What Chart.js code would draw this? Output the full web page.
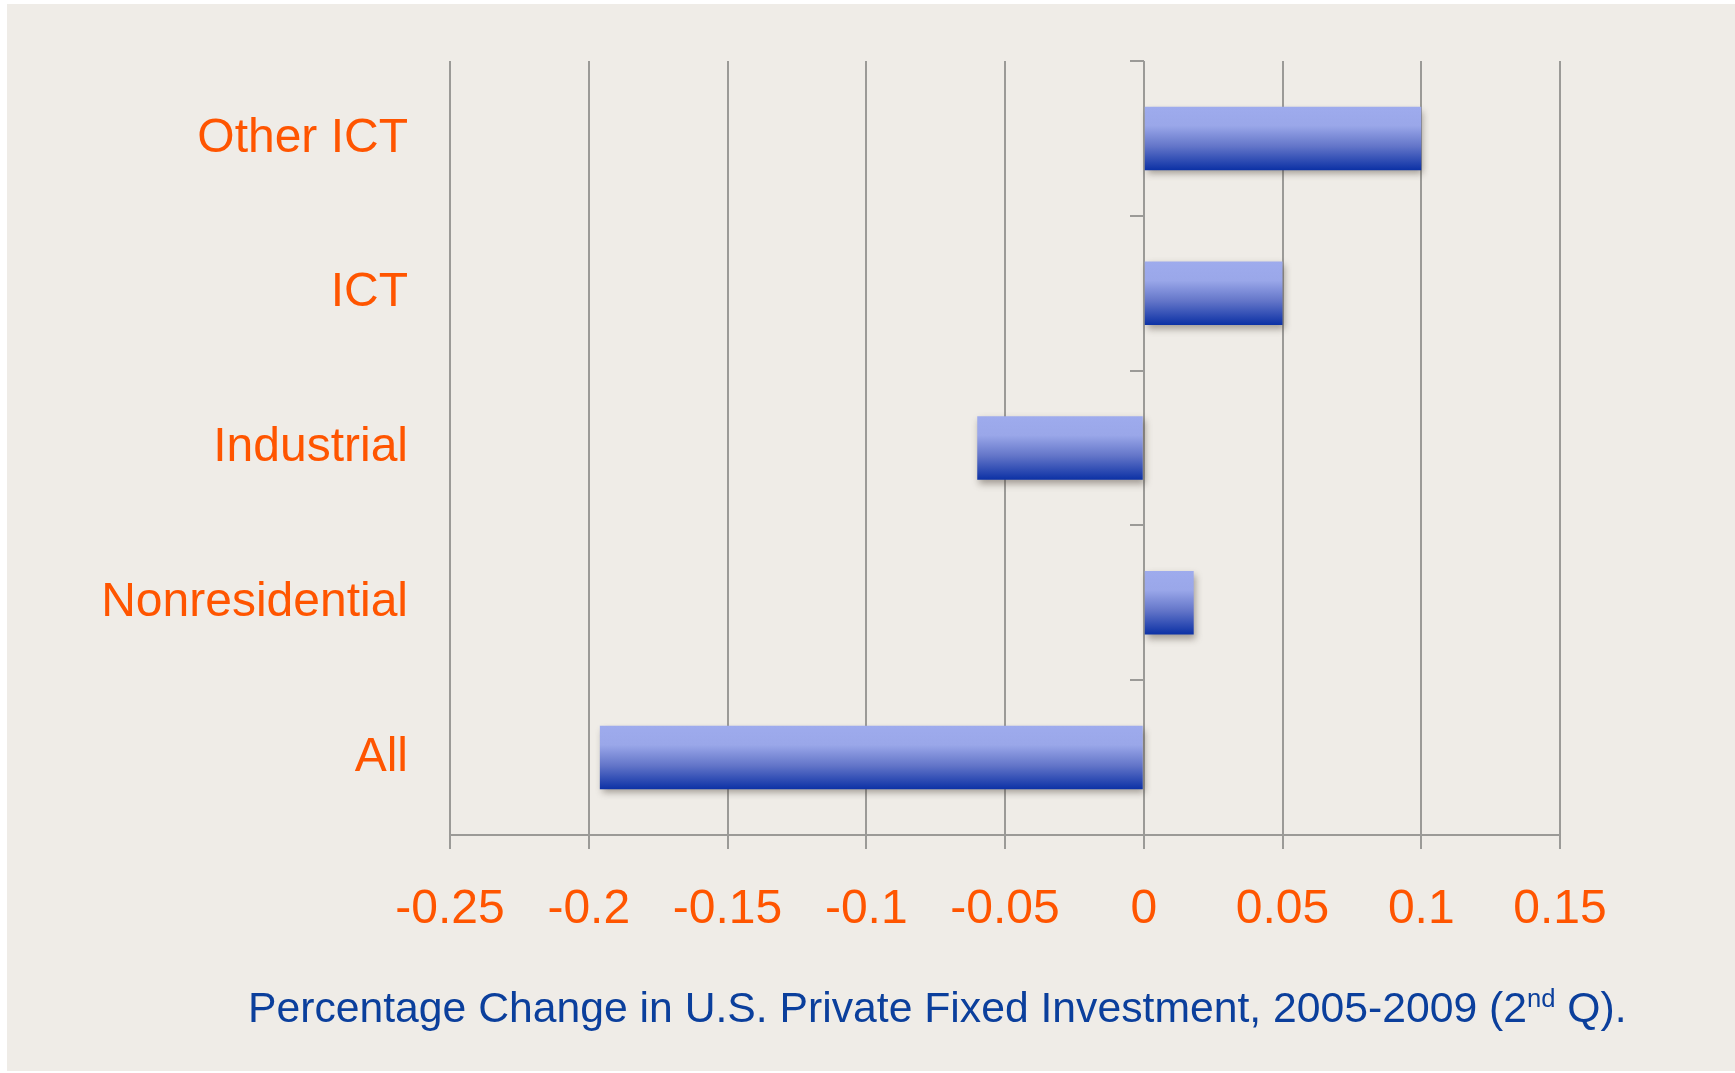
<!DOCTYPE html>
<html>
<head>
<meta charset="utf-8">
<title>Percentage Change in U.S. Private Fixed Investment</title>
<script src="https://cdn.jsdelivr.net/npm/chart.js@4.4.1/dist/chart.umd.min.js"></script>
<style>
    html, body { margin: 0; padding: 0; background: #ffffff; }
    body { width: 1735px; height: 1073px; position: relative; overflow: hidden; font-family: "Liberation Sans", Arial, sans-serif; }
    #panel { position: absolute; left: 7px; top: 4px; right: 0; bottom: 2px; background: #efece7; }
    #wrap { position: absolute; left: 0; top: 0; width: 1735px; height: 1073px; }
    #caption { position: absolute; left: 248px; top: 982px; font-size: 42.7px; line-height: 50px; color: #0b3f9c; white-space: nowrap; }
    #caption sup { font-size: 60%; line-height: 0; vertical-align: 0.6em; }
</style>
</head>
<body>
<div id="panel"></div>
<div id="wrap"><canvas id="investChart" width="1735" height="1073"></canvas></div>
<div id="caption">Percentage Change in U.S. Private Fixed Investment, 2005-2009 (2<sup>nd</sup> Q).</div>

<script>
// --- data ---
var categories = ['Other ICT', 'ICT', 'Industrial', 'Nonresidential', 'All'];
var pctChange = [0.10, 0.05, -0.06, 0.018, -0.196];
var xTickValues = [-0.25, -0.2, -0.15, -0.1, -0.05, 0, 0.05, 0.1, 0.15];

var orange = '#ff5500';
var gridGray = '#9b9a97';
var labelFont = { family: '"Liberation Sans", Arial, sans-serif', size: 48 };

// vertical gradient fill + soft drop shadow on each bar
var barStyle = {
    id: 'barStyle',
    beforeDatasetsDraw: function (chart) {
        var ctx = chart.ctx;
        chart.getDatasetMeta(0).data.forEach(function (bar) {
            var top = bar.y - bar.height / 2;
            var g = ctx.createLinearGradient(0, top, 0, top + bar.height);
            g.addColorStop(0, '#9eabed');
            g.addColorStop(0.3, '#9aa7e9');
            g.addColorStop(0.62, '#6476c9');
            g.addColorStop(1, '#0c31a5');
            // options are shared between bars, so give each its own copy
            bar.options = Object.assign({}, bar.options, { backgroundColor: g });
        });
        ctx.save();
        ctx.shadowColor = 'rgba(70, 60, 50, 0.45)';
        ctx.shadowBlur = 7;
        ctx.shadowOffsetX = 2;
        ctx.shadowOffsetY = 4;
    },
    afterDatasetsDraw: function (chart) {
        chart.ctx.restore();
    }
};

new Chart(document.getElementById('investChart').getContext('2d'), {
    type: 'bar',
    data: {
        labels: categories,
        datasets: [{
            data: pctChange,
            backgroundColor: '#6476c9',
            borderWidth: 0,
            barPercentage: 0.41,
            categoryPercentage: 1
        }]
    },
    options: {
        indexAxis: 'y',
        responsive: false,
        animation: false,
        layout: { padding: { left: 0, right: 175, top: 61, bottom: 0 } },
        plugins: { legend: { display: false }, tooltip: { enabled: false } },
        scales: {
            x: {
                min: -0.25,
                max: 0.15,
                afterBuildTicks: function (scale) {
                    scale.ticks = xTickValues.map(function (v) { return { value: v }; });
                },
                ticks: {
                    color: orange,
                    font: labelFont,
                    padding: 32,
                    maxRotation: 0,
                    callback: function (v) { return String(Number(v.toFixed(3))); }
                },
                grid: { color: gridGray, lineWidth: 2, tickLength: 14 },
                border: { color: gridGray, width: 2 },
                afterFit: function (scale) { scale.height = 1073 - 835; }
            },
            y: {
                position: 'left',
                ticks: { color: orange, font: labelFont, padding: 0 },
                // hidden tick marks only used as the gap between labels and plot
                grid: { display: false, drawTicks: true, tickLength: 42 },
                border: { display: false },
                afterFit: function (scale) { scale.width = 450; }
            },
            // short category tick marks on the zero line
            yMarks: {
                type: 'category',
                axis: 'y',
                labels: categories,
                position: { x: 0 },
                offset: true,
                ticks: { display: false },
                grid: { offset: true, drawOnChartArea: false, tickLength: 14, color: gridGray, lineWidth: 2 },
                border: { display: false }
            }
        }
    },
    plugins: [barStyle]
});
</script>
</body>
</html>
